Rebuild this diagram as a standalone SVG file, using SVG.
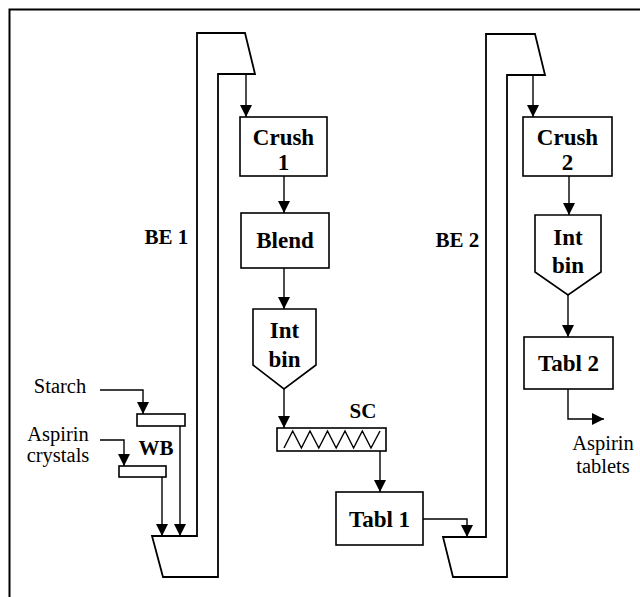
<svg xmlns="http://www.w3.org/2000/svg" width="640" height="597" viewBox="0 0 640 597">
<defs>
<marker id="ah" markerUnits="userSpaceOnUse" markerWidth="12" markerHeight="12" refX="12" refY="6" orient="auto">
<path d="M0,0 L12,6 L0,12 z" fill="#000"/>
</marker>
<style>
.s{fill:#fff;stroke:#000;stroke-width:1.6}
.e{fill:none;stroke:#000;stroke-width:1.8}
.c{fill:none;stroke:#000;stroke-width:1.4}
.a{marker-end:url(#ah)}
.b{font-family:"Liberation Serif","Times New Roman",serif;font-weight:bold;font-size:23px;text-anchor:middle;fill:#000}
.l{font-family:"Liberation Serif","Times New Roman",serif;font-weight:bold;font-size:21px;text-anchor:middle;fill:#000}
.r{font-family:"Liberation Serif","Times New Roman",serif;font-size:20.5px;text-anchor:middle;fill:#000}
</style>
</defs>
<rect width="640" height="597" fill="#fff"/>
<path d="M9.5,597 L9.5,9.5 L640,9.5" fill="none" stroke="#000" stroke-width="2"/>

<g id="BE1">
<path class="e" d="M152,536 L197,536 L197,33 L245,33 L255,74 L218,74 L218,577 L163,577 Z"/>
<text class="l" x="166.5" y="244">BE 1</text>
</g>
<g id="BE2">
<path class="e" d="M443,537 L486,537 L486,34 L535,34 L545,75 L507,75 L507,577 L453,577 Z"/>
<text class="l" x="457.5" y="247">BE 2</text>
</g>

<g id="WB">
<rect class="s" x="137" y="414" width="48" height="12"/>
<rect class="s" x="119" y="466" width="47" height="11"/>
<text class="l" x="156" y="455">WB</text>
</g>
<g id="Starch"><text class="r" x="60" y="393">Starch</text></g>
<g id="AspirinCrystals"><text class="r" x="58" y="441">Aspirin</text><text class="r" x="58" y="462">crystals</text></g>

<g id="Crush1">
<rect class="s" x="240" y="117" width="87" height="59"/>
<text class="b" x="283.5" y="145">Crush</text>
<text class="b" x="283.5" y="170">1</text>
</g>
<g id="Blend">
<rect class="s" x="241" y="213" width="88" height="55"/>
<text class="b" x="285" y="248">Blend</text>
</g>
<g id="IntBin1">
<path class="s" d="M253,309 L316,309 L316,365 L284,389 L253,365 Z"/>
<text class="b" x="284.5" y="338">Int</text>
<text class="b" x="284.5" y="367">bin</text>
</g>
<g id="SC">
<rect class="s" x="277" y="428" width="109" height="23"/>
<path class="c" d="M284,448 L292.7,431 L301.4,448 L310,431 L318.8,448 L327.5,431 L336.2,448 L345,431 L353.6,448 L362.3,431 L371,448 L380,431"/>
<text class="l" x="363" y="418">SC</text>
</g>
<g id="Tabl1">
<rect class="s" x="336" y="492" width="87" height="53"/>
<text class="b" x="379.5" y="527">Tabl 1</text>
</g>
<g id="Crush2">
<rect class="s" x="523" y="117" width="89" height="59"/>
<text class="b" x="567.5" y="145">Crush</text>
<text class="b" x="567.5" y="170">2</text>
</g>
<g id="IntBin2">
<path class="s" d="M535,215 L601,215 L601,272 L568,295 L535,272 Z"/>
<text class="b" x="568" y="245">Int</text>
<text class="b" x="568" y="273">bin</text>
</g>
<g id="Tabl2">
<rect class="s" x="524" y="337" width="89" height="52"/>
<text class="b" x="568.5" y="371">Tabl 2</text>
</g>
<g id="AspirinTablets"><text class="r" x="603" y="450">Aspirin</text><text class="r" x="603" y="473">tablets</text></g>

<g id="connectors">
<path class="c a" d="M246,74 L246,117"/>
<path class="c a" d="M284,176 L284,213"/>
<path class="c a" d="M284,268 L284,309"/>
<path class="c a" d="M284,389 L284,428"/>
<path class="c a" d="M380,451 L380,492"/>
<path class="c a" d="M423,519 L467,519 L467,537"/>
<path class="c a" d="M533,75 L533,117"/>
<path class="c a" d="M569,176 L569,215"/>
<path class="c a" d="M568,295 L568,337"/>
<path class="c a" d="M568,389 L568,419 L604,419"/>
<path class="c a" d="M100,390 L143,390 L143,414"/>
<path class="c a" d="M100,440 L124,440 L124,466"/>
<path class="c a" d="M180,426 L180,536"/>
<path class="c a" d="M162,477 L162,536"/>
</g>
</svg>
